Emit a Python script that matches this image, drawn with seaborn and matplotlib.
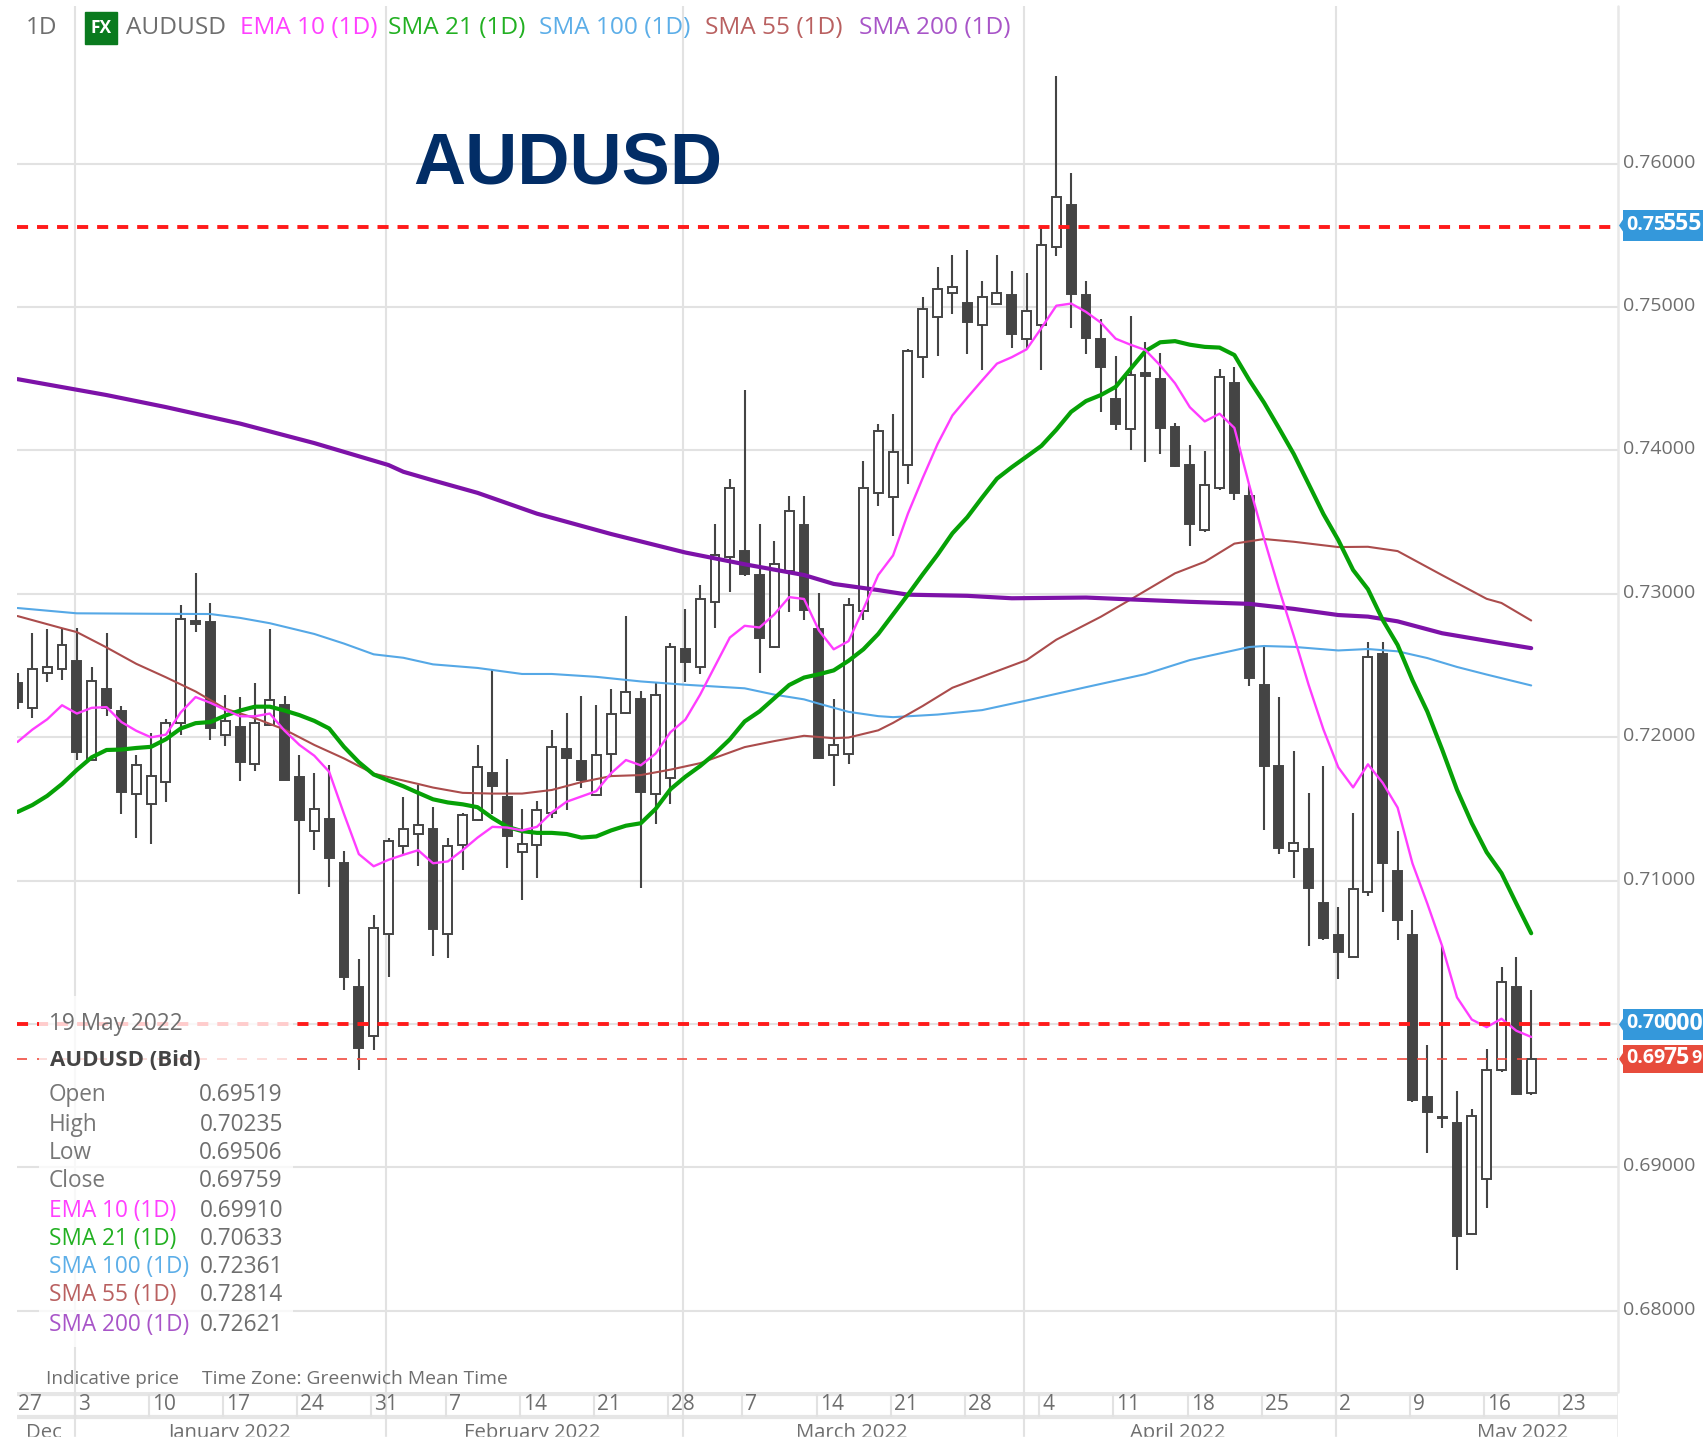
import matplotlib
matplotlib.use("Agg")
import matplotlib.pyplot as plt
import numpy as np
import pandas as pd
import seaborn as sns
from matplotlib.patches import Polygon, Rectangle
from matplotlib.transforms import ScaledTranslation

W, H = 1703, 1443

# daily candles, 28 Dec 2021 to 19 May 2022 (trading days only)
opens = [.72378, .72207, .72445, .72474, .72533, .71844, .72338, .72186, .71607, .71537,
         .71687, .72098, .72810, .72800, .72013, .72071, .71812, .72085, .72226, .71724,
         .71343, .71431, .71124, .70259, .69917, .70630, .71244, .71327, .71363, .70628,
         .71246, .71425, .71751, .71582, .71201, .71246, .71475, .71918, .71831, .71594,
         .71886, .72167, .72267, .71607, .71719, .72616, .72488, .72944, .73260, .73298,
         .73131, .72628, .73156, .73480, .72757, .71873, .71886, .72877, .73704, .73674,
         .73895, .74650, .74929, .75096, .75028, .74872, .75024, .75086, .74774, .74874,
         .75419, .75713, .75086, .74779, .74361, .74149, .74540, .74498, .74162, .73900,
         .73447, .73741, .74471, .73679, .72366, .71796, .71204, .71220, .70846, .70622,
         .70467, .70924, .72577, .71067, .70622, .69492, .69355, .69309, .68537, .68916,
         .69679, .70255, .69519]
highs = [.72450, .72725, .72752, .72765, .72765, .72488, .72725, .72221, .71879, .72031,
         .72125, .72925, .73147, .72939, .72293, .72279, .72378, .72755, .72285, .71879,
         .71751, .71807, .71207, .70451, .70758, .71300, .71586, .71666, .71512, .71300,
         .71475, .71948, .72466, .71848, .71500, .71557, .72048, .72172, .72284, .72227,
         .72339, .72845, .72322, .72384, .72658, .72894, .73064, .73485, .73803, .74419,
         .73485, .73368, .73679, .73679, .73006, .72267, .72969, .73928, .74182, .74252,
         .74710, .75073, .75282, .75365, .75395, .75183, .75365, .75253, .75240, .75550,
         .76610, .75937, .75183, .74916, .74655, .74934, .74754, .74680, .74194, .74040,
         .73995, .74568, .74580, .73758, .72646, .72282, .71905, .71612, .71796, .70818,
         .71472, .72661, .72661, .71348, .70793, .69853, .70544, .69533, .69408, .69828,
         .70398, .70467, .70235]
lows = [.72200, .72133, .72384, .72400, .71839, .71839, .72146, .71465, .71295, .71252,
        .71546, .72013, .72733, .71978, .71938, .71698, .71767, .72079, .71700, .70905,
        .71212, .70958, .70238, .69677, .69816, .70331, .71185, .71105, .70474, .70460,
        .71076, .71418, .71462, .71089, .70865, .71019, .71437, .71492, .71649, .71587,
        .71724, .72160, .70952, .71393, .71537, .72384, .72439, .72762, .73011, .73123,
        .72451, .72620, .72874, .72815, .71848, .71657, .71811, .72815, .73612, .73405,
        .73763, .74505, .74660, .74949, .74672, .74560, .75024, .74717, .74717, .74560,
        .75357, .74854, .74672, .74269, .74144, .74002, .73920, .73975, .73883, .73335,
        .73430, .73721, .73654, .72359, .71354, .71183, .71021, .70544, .70585, .70311,
        .70467, .70893, .70778, .70585, .69455, .69103, .69274, .68287, .68537, .68717,
        .69667, .69502, .69506]
closes = [.72245, .72474, .72488, .72640, .71898, .72392, .72205, .71618, .71804, .71732,
          .72098, .72821, .72789, .72066, .72111, .71826, .72098, .72263, .71700, .71423,
          .71497, .71158, .70331, .69832, .70673, .71273, .71359, .71385, .70662, .71244,
          .71455, .71791, .71662, .71313, .71258, .71495, .71931, .71856, .71699, .71873,
          .72165, .72317, .71619, .72292, .72628, .72526, .72962, .73268, .73741, .73138,
          .72695, .73211, .73574, .72889, .71856, .71943, .72919, .73741, .74132, .73990,
          .74692, .74986, .75123, .75138, .74896, .75068, .75096, .74812, .74971, .75434,
          .75768, .75091, .74787, .74580, .74187, .74525, .74520, .74157, .73890, .73490,
          .73758, .74510, .73701, .72412, .71799, .71229, .71260, .70949, .70600, .70504,
          .70940, .72559, .71120, .70725, .69470, .69386, .69343, .68521, .69362, .69682,
          .70295, .69511, .69759]

ema10 = [.71967, .72053, .72125, .72223, .72165, .72205, .72210, .72106, .72045, .71999,
         .72018, .72173, .72280, .72240, .72191, .72146, .72146, .72165, .72045, .71946,
         .71871, .71759, .71465, .71185, .71100, .71145, .71180, .71212, .71121, .71134,
         .71213, .71300, .71375, .71370, .71350, .71375, .71475, .71550, .71587, .71624,
         .71749, .71841, .71804, .71886, .72035, .72122, .72297, .72496, .72695, .72777,
         .72765, .72857, .72977, .72964, .72745, .72613, .72670, .72894, .73131, .73268,
         .73559, .73808, .74045, .74244, .74368, .74488, .74605, .74650, .74705, .74854,
         .75009, .75024, .74966, .74891, .74779, .74737, .74700, .74593, .74468, .74301,
         .74202, .74256, .74157, .73758, .73385, .73036, .72708, .72366, .72054, .71790,
         .71650, .71811, .71681, .71509, .71120, .70840, .70544, .70186, .70031, .69978,
         .70037, .69953, .69910]
sma21 = [.71479, .71527, .71591, .71674, .71772, .71860, .71911, .71914, .71925, .71933,
         .71986, .72061, .72098, .72106, .72151, .72186, .72213, .72213, .72186, .72154,
         .72114, .72061, .71933, .71826, .71740, .71698, .71658, .71612, .71567, .71545,
         .71532, .71512, .71437, .71375, .71345, .71333, .71333, .71325, .71300, .71308,
         .71350, .71383, .71400, .71500, .71637, .71724, .71799, .71886, .71985, .72110,
         .72180, .72272, .72364, .72416, .72439, .72466, .72533, .72613, .72720, .72857,
         .72994, .73136, .73273, .73422, .73534, .73671, .73803, .73883, .73957, .74032,
         .74144, .74269, .74344, .74386, .74443, .74568, .74692, .74754, .74762, .74737,
         .74722, .74717, .74665, .74491, .74333, .74156, .73975, .73766, .73556, .73375,
         .73166, .73032, .72817, .72643, .72397, .72179, .71914, .71634, .71400, .71198,
         .71052, .70840, .70633]

sma100_idx = [0, 4, 9, 13, 15, 17, 20, 22, 24, 26, 28, 31, 34, 36, 39, 42, 45, 49, 51, 53,
              54, 56, 58, 59, 62, 65, 68, 72, 76, 79, 83, 84, 86, 89, 91, 93, 95, 97, 99, 102]
sma100 = [.72901, .72864, .72861, .72859, .72832, .72795, .72720, .72653, .72578, .72554,
          .72508, .72483, .72441, .72441, .72421, .72389, .72366, .72341, .72297, .72264,
          .72234, .72177, .72147, .72140, .72158, .72189, .72256, .72349, .72440, .72538,
          .72629, .72636, .72630, .72605, .72615, .72599, .72552, .72490, .72437, .72361]

sma55_idx = [0, 3, 4, 6, 8, 10, 12, 14, 16, 18, 20, 22, 24, 27, 28, 30, 32, 34, 36, 38,
             40, 42, 44, 46, 49, 51, 53, 55, 56, 58, 59, 61, 63, 68, 70, 73, 75, 78, 80,
             82, 84, 86, 89, 91, 93, 96, 99, 100, 102]
sma55 = [.72845, .72760, .72733, .72626, .72512, .72418, .72319, .72199, .72133, .72053,
         .71946, .71852, .71746, .71674, .71649, .71612, .71607, .71607, .71632, .71687,
         .71729, .71736, .71774, .71819, .71931, .71973, .72010, .71993, .71998, .72048,
         .72100, .72218, .72345, .72538, .72680, .72840, .72960, .73143, .73223, .73350,
         .73382, .73363, .73326, .73328, .73298, .73130, .72965, .72936, .72814]

sma200_idx = [0, 6, 10, 15, 20, 25, 26, 28, 31, 35, 40, 45, 49, 53, 55, 58, 60, 64, 67, 72,
              75, 79, 83, 86, 89, 91, 93, 96, 100, 102]
sma200 = [.74497, .74386, .74302, .74187, .74051, .73898, .73851, .73791, .73704, .73559,
          .73417, .73288, .73206, .73131, .73069, .73026, .72994, .72986, .72969, .72974,
          .72961, .72944, .72930, .72895, .72852, .72841, .72808, .72725, .72655, .72621]

price_ticks = [0.68, 0.69, 0.71, 0.72, 0.73, 0.74, 0.75, 0.76]
week_idx = [4, 9, 14, 19, 24, 29, 34, 39, 44, 49, 54, 59, 64, 69, 74, 79, 84, 89, 94, 99, 104]
week_labels = ["3", "10", "17", "24", "31", "7", "14", "21", "28", "7", "14", "21", "28",
               "4", "11", "18", "25", "2", "9", "16", "23"]
month_idx = [4, 25, 45, 68, 89]
month_names = ["Dec", "January 2022", "February 2022", "March 2022", "April 2022", "May 2022"]
month_pos = [1.75, 14.3, 34.7, 56.2, 78.2, 101.4]

resistance = 0.75555
support = 0.70000
last_close = 0.69759

tooltip_rows = [("Open", "0.69519", "#777777"), ("High", "0.70235", "#777777"),
                ("Low", "0.69506", "#777777"), ("Close", "0.69759", "#777777"),
                ("EMA 10 (1D)", "0.69910", "#ff40ff"), ("SMA 21 (1D)", "0.70633", "#22b022"),
                ("SMA 100 (1D)", "0.72361", "#5caee8"), ("SMA 55 (1D)", "0.72814", "#b96060"),
                ("SMA 200 (1D)", "0.72621", "#a855c8")]
tooltip_y = [1095, 1125, 1153, 1181, 1211, 1239, 1267, 1295, 1325]

sns.set_theme(style="white")
plt.rcParams["font.family"] = ["Open Sans", "DejaVu Sans"]

GRID = "#e2e2e2"
INK = "#444444"
GREY = "#6e6e6e"

fig = plt.figure(figsize=(W / 100, H / 100), dpi=100, facecolor="white")
ax = fig.add_axes([17 / W, (H - 1392) / H, 1601 / W, 1386 / H])
ax_time = fig.add_axes([17 / W, 0, 1601 / W, (H - 1392) / H], sharex=ax)
over = fig.add_axes([0, 0, 1, 1], facecolor="none")
over.set_xlim(0, W)
over.set_ylim(H, 0)
over.axis("off")

# --------------------------------------------------------------------------
# Price panel
# --------------------------------------------------------------------------
n_bars = len(opens)
bars = pd.DataFrame({"i": np.arange(n_bars), "open": opens, "high": highs,
                     "low": lows, "close": closes})
bars["top"] = bars[["open", "close"]].max(axis=1)
bars["bottom"] = bars[["open", "close"]].min(axis=1)
bars["down"] = bars["close"] < bars["open"]

ax.set_xlim(-0.034, 107.85)
ax.set_ylim(0.67434, 0.77099)
for s in ax.spines.values():
    s.set_visible(False)

ax.set_yticks(price_ticks)
ax.set_yticklabels([f"{t:.5f}" for t in price_ticks], color=GREY, fontsize=14)
ax.yaxis.tick_right()
ax.tick_params(axis="y", length=0, pad=3.6)
ax.tick_params(axis="x", length=0, labelbottom=False)
for lab in ax.get_yticklabels():
    lab.set_transform(lab.get_transform() + ScaledTranslation(0, 2.2 / 72, fig.dpi_scale_trans))
ax.grid(False)
ax.hlines(price_ticks + [support], -1, 108, color=GRID, lw=1.5, zorder=1)
ax.vlines(np.array(month_idx) - 0.15, 0, 1, transform=ax.get_xaxis_transform(), color=GRID, lw=1.5, zorder=1)
ax.axvline(107.85, color="#e8e8e8", lw=1.8, zorder=1, clip_on=False)

ax.vlines(bars["i"], bars["low"], bars["high"], color=INK, lw=1.5, zorder=2)
ax.bar(bars["i"], bars["top"] - bars["bottom"], bottom=bars["bottom"], width=0.6,
       color=["#444444" if d else "white" for d in bars["down"]],
       edgecolor=INK, linewidth=1.4, zorder=2.5)

ma_styles = [
    (np.array(sma100_idx), sma100, "#55a8e6", 1.5),
    (np.array(sma55_idx), sma55, "#ab4c4c", 1.5),
    (np.array(sma200_idx), sma200, "#7d12a8", 3.0),
    (np.arange(n_bars), sma21, "#06a106", 3.0),
    (np.arange(n_bars), ema10, "#ff3dff", 1.7),
]
for xs, ys, colour, lw in ma_styles:
    sns.lineplot(x=xs, y=ys, color=colour, linewidth=lw, estimator=None, sort=False,
                 ax=ax, zorder=3, legend=False)
ax.set_xlabel("")
ax.set_ylabel("")

ax.axhline(resistance, color="#ff1a1a", lw=2.8, dashes=(2.85, 2.3), zorder=4)
ax.axhline(support, color="#ff1a1a", lw=2.8, dashes=(2.85, 2.3), zorder=4)
ax.axhline(last_close, color="#f04a3e", lw=1.2, dashes=(6, 6), zorder=4)

# --------------------------------------------------------------------------
# Time axis
# --------------------------------------------------------------------------
ax_time.set_ylim(51, 0)
ax_time.axis("off")
ax_time.hlines([1.5, 25], -0.034, 107.85, color="#e6e6e6", lw=3)
ax_time.vlines(np.array(week_idx) - 0.15, 1.5, 25, color=GRID, lw=1.5)
ax_time.vlines(np.array(month_idx) - 0.15, 0, 51, color=GRID, lw=1.5)
ax_time.axvline(107.85, color="#e8e8e8", lw=1.8)
ax_time.text(0.02, 13, "27", fontsize=15, color=GREY, va="center", ha="left")
for pos, lab in zip(week_idx, week_labels):
    ax_time.text(pos + 0.05, 13, lab, fontsize=15, color=GREY, va="center", ha="left")
for pos, lab in zip(month_pos, month_names):
    ax_time.text(pos, 41, lab, fontsize=14.6, color=GREY, va="center", ha="center")

# --------------------------------------------------------------------------
# Header, title, tooltip panel and price flags
# --------------------------------------------------------------------------
over.text(26, 28, "1D", fontsize=17.5, color=GREY, va="center")
over.add_patch(Rectangle((85, 12), 32, 32, color="#0a7a1e"))
over.text(101, 28, "FX", fontsize=12.5, color="white", weight="bold", va="center", ha="center")
header = [(126, "AUDUSD", GREY), (240, "EMA 10 (1D)", "#ff40ff"), (388, "SMA 21 (1D)", "#22b022"),
          (539, "SMA 100 (1D)", "#5caee8"), (705, "SMA 55 (1D)", "#b96060"), (859, "SMA 200 (1D)", "#a855c8")]
for x0, lab, colour in header:
    over.text(x0, 28, lab, fontsize=17.6, color=colour, va="center")

over.text(413, 183, "AUDUSD", fontsize=52, weight="bold", color="#022d66", va="baseline",
          family=["Liberation Sans", "DejaVu Sans"])

over.add_patch(Rectangle((39, 996), 254, 351, color="white", alpha=0.78, lw=0, zorder=5))
over.text(49, 1024, "19 May 2022", fontsize=16.3, color=GREY, va="center", zorder=6)
over.text(50, 1060, "AUDUSD (Bid)", fontsize=16, color="#444444", weight="bold", va="center", zorder=6)
for (lab, val, colour), y in zip(tooltip_rows, tooltip_y):
    over.text(49, y, lab, fontsize=16.3, color=colour, va="center", zorder=6)
    over.text(283, y, val, fontsize=16.3, color=GREY, va="center", ha="right", zorder=6)
over.text(46, 1379, "Indicative price", fontsize=13.6, color=GREY, va="center")
over.text(202, 1379, "Time Zone: Greenwich Mean Time", fontsize=13.9, color=GREY, va="center")


def price_flag(y0, y1, colour, parts):
    mid = (y0 + y1) / 2
    over.add_patch(Polygon([(1619, mid), (1623, mid - 6), (1623, y0), (1703, y0),
                            (1703, y1), (1623, y1), (1623, mid + 6)], closed=True, color=colour, lw=0))
    for x0, txt, size in parts:
        over.text(x0, mid - 1, txt, fontsize=size, color="white", weight="bold", va="center", clip_on=True)


price_flag(210, 241, "#3498db", [(1626, "0.75", 14), (1663, "555", 16.6)])
price_flag(1009, 1040, "#3498db", [(1626, "0.70", 14), (1663, "000", 16.6)])
price_flag(1045, 1073, "#e74c3c", [(1626, "0.69", 14), (1663, "75", 16.6), (1691, "9", 13)])

# picture is cut off a few pixels above the bottom edge
fig.add_artist(Rectangle((0, 0), 1, (H - 1437) / H, transform=fig.transFigure, color="white", zorder=20))

fig.savefig("out.png", dpi=100, facecolor="white")
